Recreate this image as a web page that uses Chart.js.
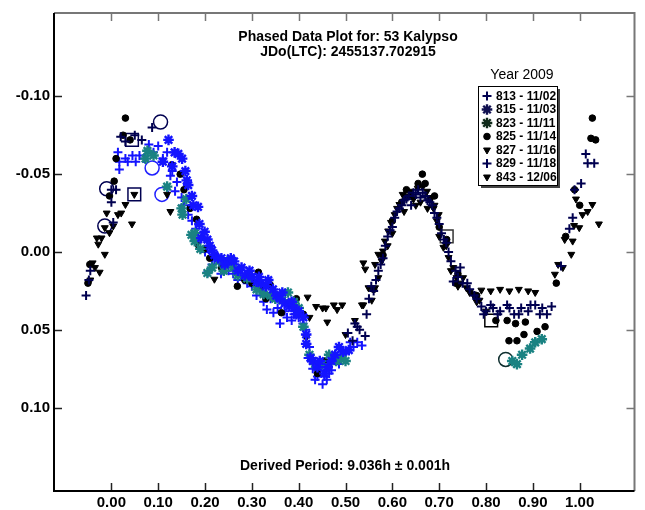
<!DOCTYPE html>
<html>
<head>
<meta charset="utf-8">
<script src="https://cdn.jsdelivr.net/npm/chart.js@4.4.1/dist/chart.umd.min.js"></script>
<style>
  html, body { margin: 0; padding: 0; background: #fff; }
  #wrap { width: 645px; height: 510px; }
</style>
</head>
<body>
<div id="wrap"><canvas id="myChart" width="645" height="510"></canvas></div>
<script>
// tick values
const xTicks = [0, 0.1, 0.2, 0.3, 0.4, 0.5, 0.6, 0.7, 0.8, 0.9, 1.0];
const yTicks = [-0.10, -0.05, 0.00, 0.05, 0.10];

// sessions: [phase, magnitude]
const s813 = [[-0.054,0.028],[-0.045,0.012],[-0.048,0.018],[0.0,-0.040],[0.01,-0.040],[0.0,-0.032],[0.004,-0.019],
  [0.087,-0.080],[0.065,-0.072],[0.05,-0.075],[0.02,-0.074],[0.03,-0.071],
  [0.505,0.052],[0.515,0.057],[0.525,0.048],[0.545,0.040],
  [0.542,0.054],[0.52,0.046],[0.53,0.050],[0.55,0.030],[0.56,0.025],[0.57,0.012],[0.58,0.004],[0.59,-0.010],[0.60,-0.016],
  [0.555,0.022],[0.565,0.018],[0.575,0.008],[0.585,-0.004],[0.595,-0.014],[0.605,-0.022],[0.615,-0.028],[0.625,-0.033],
  [0.635,-0.036],[0.645,-0.038],[0.655,-0.040],[0.665,-0.038],[0.675,-0.033],[0.685,-0.030],[0.695,-0.022],[0.70,-0.018],
  [0.61,-0.026],[0.62,-0.030],[0.63,-0.034],[0.64,-0.030],[0.65,-0.037],[0.66,-0.035],[0.67,-0.036],[0.68,-0.032],[0.69,-0.025],
  [0.705,-0.012],[0.715,-0.006],[0.71,-0.008],[0.72,0.000],[0.725,0.006],[0.735,0.012],[0.74,0.016],[0.75,0.020],
  [0.73,0.019],[0.745,0.010],[0.76,0.020],[0.765,0.024],[0.775,0.028],[0.78,0.030],[0.79,0.035],[0.795,0.040],[0.80,0.038],
  [0.81,0.034],[0.815,0.036],[0.825,0.040],[0.83,0.038],[0.845,0.034],[0.85,0.036],[0.86,0.040],[0.87,0.040],[0.875,0.036],
  [0.89,0.038],[0.895,0.034],[0.905,0.034],[0.915,0.040],[0.92,0.036],[0.93,0.040],[0.94,0.035],
  [0.96,0.009],[0.978,-0.015],[0.985,-0.022],[0.989,-0.040],[1.003,-0.044],[1.017,-0.057],[1.031,-0.057],[1.013,-0.063]];
const s815 = [[0.122,-0.072],[0.143,-0.063],[0.151,-0.060],[0.11,-0.058],[0.13,-0.055],[0.135,-0.064],[0.161,-0.046],
  [0.158,-0.052],[0.164,-0.043],[0.172,-0.036],[0.175,-0.030],[0.185,-0.029],[0.188,-0.018],[0.192,-0.009],[0.199,-0.013],
  [0.205,-0.008],[0.21,-0.004],[0.215,-0.001],[0.22,0.002],[0.228,0.004],[0.235,0.004],[0.242,0.008],[0.25,0.006],
  [0.255,0.004],[0.262,0.006],[0.27,0.012],[0.278,0.010],[0.285,0.015],[0.295,0.012],[0.30,0.016],[0.31,0.019],
  [0.315,0.016],[0.32,0.020],[0.33,0.022],[0.335,0.018],[0.345,0.024],[0.352,0.028],[0.36,0.030],[0.365,0.026],
  [0.37,0.033],[0.38,0.035],[0.385,0.032],[0.39,0.036],[0.395,0.040],[0.40,0.038],[0.41,0.042],[0.416,0.053],
  [0.416,0.059],[0.425,0.068],[0.43,0.070],[0.44,0.074],[0.445,0.070],[0.455,0.078],[0.462,0.074],[0.47,0.070],
  [0.478,0.066],[0.486,0.061],[0.495,0.064],[0.507,0.063]];
const s823 = [[0.077,-0.065],[0.073,-0.060],[0.09,-0.062],[0.119,-0.042],[0.15,-0.028],[0.152,-0.024],[0.16,-0.034],
  [0.171,-0.011],[0.178,-0.007],[0.178,-0.012],[0.19,-0.002],[0.205,0.0135],[0.215,0.010],[0.23,0.006],[0.24,0.012],
  [0.248,0.006],[0.26,0.010],[0.27,0.015],[0.29,0.017],[0.31,0.024],[0.325,0.027],[0.34,0.028],[0.35,0.030],
  [0.365,0.031],[0.377,0.026],[0.39,0.032],[0.40,0.036],[0.41,0.048],[0.423,0.066],[0.435,0.072],[0.45,0.072],
  [0.465,0.066],[0.48,0.070],[0.49,0.068],[0.50,0.070],
  [0.856,0.070],[0.866,0.072],[0.877,0.066],[0.894,0.062],[0.905,0.058],[0.919,0.056]];
const s825 = [[0.030,-0.086],[0.01,-0.060],[0.006,-0.0455],[-0.004,-0.036],[0.025,-0.075],[0.04,-0.072],
  [0.129,-0.056],[0.147,-0.050],[0.155,-0.040],[0.168,-0.028],[0.182,-0.021],[0.199,-0.002],[0.21,0.004],[0.235,0.010],
  [0.269,0.022],[0.285,0.018],[0.314,0.013],[0.300,0.020],[0.321,0.022],[0.33,0.030],[0.339,0.021],[0.349,0.027],
  [0.363,0.039],[0.38,0.034],[0.395,0.030],[0.41,0.040],[0.455,0.070],[0.475,0.069],[0.44,0.078],
  [0.56,0.024],[0.58,0.002],[0.60,-0.020],[0.62,-0.032],[0.63,-0.040],[0.64,-0.036],[0.655,-0.044],[0.664,-0.050],
  [0.67,-0.044],[0.68,-0.034],[0.69,-0.036],[0.70,-0.016],[0.716,-0.008],[0.735,0.020],[0.74,0.014],[0.78,0.028],
  [0.821,0.044],[0.845,0.044],[0.863,0.046],[0.884,0.045],
  [0.909,0.051],[0.926,0.048],[0.849,0.057],[0.866,0.057],[0.881,0.053],[0.95,0.020],[0.97,-0.010],[0.989,-0.040],
  [1.00,-0.030],[1.027,-0.086],[1.024,-0.073],[1.034,-0.072],[-0.046,0.008],[-0.050,0.020]];
const s827 = [[0.437,0.035],[0.451,0.036],[0.458,0.036],[0.461,0.045],[0.475,0.034],[0.482,0.037],[0.493,0.034],
  [0.538,0.007],[0.542,0.011],[0.563,0.008],[0.570,0.0015],[0.538,0.034],[0.419,0.029],[0.423,0.042],
  [0.79,0.0245],[0.81,0.025],[0.83,0.024],[0.85,0.025],[0.87,0.024],[0.89,0.025],[0.905,0.026],
  [0.964,0.010],[0.982,0.0015],[1.006,-0.024],[1.017,-0.026],[1.027,-0.0305],[1.041,-0.018]];
const s829 = [[0.014,-0.064],[0.017,-0.058],[0.017,-0.053],[0.03,-0.060],[0.035,-0.058],[0.045,-0.062],[0.052,-0.058],
  [0.06,-0.062],[0.07,-0.060],[0.08,-0.069],[0.09,-0.064],[0.10,-0.068],[0.11,-0.060],[0.119,-0.064],[0.126,-0.049],
  [0.13,-0.052],[0.136,-0.039],[0.14,-0.045],[0.15,-0.035],[0.155,-0.030],[0.164,-0.024],[0.172,-0.020],[0.18,-0.015],
  [0.19,-0.008],[0.20,0.000],[0.206,0.013],[0.215,0.008],[0.22,0.005],[0.234,0.014],[0.24,0.009],[0.25,0.012],
  [0.26,0.014],[0.27,0.018],[0.28,0.016],[0.29,0.020],[0.30,0.022],[0.31,0.028],[0.318,0.025],[0.325,0.032],
  [0.332,0.037],[0.34,0.030],[0.346,0.039],[0.355,0.036],[0.36,0.046],[0.37,0.038],[0.375,0.042],[0.385,0.044],
  [0.39,0.040],[0.40,0.042],[0.409,0.046],[0.415,0.050],[0.42,0.068],[0.423,0.061],[0.43,0.075],[0.435,0.082],
  [0.44,0.080],[0.445,0.076],[0.451,0.085],[0.455,0.080],[0.46,0.082],[0.465,0.078],[0.47,0.076],[0.48,0.068],
  [0.486,0.072],[0.49,0.066],[0.50,0.065],[0.51,0.058],[0.517,0.061],[0.525,0.058],[0.535,0.060]];
const s843 = [[0.049,-0.037],[0.030,-0.0305],[0.014,-0.024],[0.021,-0.025],[-0.010,-0.025],[0.044,-0.018],
  [-0.014,-0.0156],[0.004,-0.0167],[-0.004,-0.0124],[-0.031,-0.009],[-0.021,-0.009],[-0.028,-0.005],[-0.014,0.0015],
  [-0.040,0.007],[-0.035,0.010],[-0.025,0.013],[-0.045,0.018],[0.119,-0.037],[0.126,-0.026],[0.182,-0.005],
  [0.220,0.0175],[0.416,0.055],[0.50,0.053],[0.52,0.044],[0.535,0.034],[0.549,0.023],[0.556,0.031],[0.563,0.023],
  [0.57,0.0165],[0.577,0.0058],[0.58,-0.0006],[0.584,-0.007],[0.59,-0.004],[0.591,-0.0135],[0.597,-0.019],
  [0.60,-0.012],[0.605,-0.024],[0.61,-0.028],[0.615,-0.0305],[0.622,-0.037],[0.625,-0.026],[0.63,-0.036],
  [0.639,-0.039],[0.645,-0.034],[0.65,-0.030],[0.654,-0.041],[0.66,-0.032],[0.665,-0.042],[0.674,-0.039],
  [0.675,-0.028],[0.681,-0.035],[0.688,-0.028],[0.69,-0.030],[0.695,-0.020],[0.699,-0.024],[0.70,-0.010],
  [0.709,-0.003],[0.715,-0.004],[0.720,0.0036],[0.725,0.012],[0.730,0.010],[0.737,0.0165],[0.74,0.022],
  [0.745,0.020],[0.751,0.0165],[0.758,0.023],[0.765,0.026],[0.772,0.027],[0.78,0.032],[0.786,0.031],[0.80,0.038],
  [0.947,0.0143],[0.954,0.008],[0.968,-0.008],[0.985,-0.007],[0.999,-0.0156],[0.988,-0.017],[0.992,-0.034]];

// open marks at the first point of each session
const startCircles = [[0.105,-0.0835],[-0.010,-0.0406],[-0.014,-0.0167],[0.087,-0.054],[0.108,-0.037],[0.842,0.069]];
const startSquares = [[0.044,-0.072],[0.049,-0.037],[0.716,-0.010],[0.811,0.044]];

const sessions = [
  { label: '813 - 11/02', data: s813, color: '#000050', style: 'cross', rot: 0, r: 4.5, bw: 2 },
  { label: '815 - 11/03', data: s815, color: '#1414ff', style: 'star', rot: 0, r: 5.3, bw: 2.4 },
  { label: '823 - 11/11', data: s823, color: '#1a8282', style: 'star', rot: 0, r: 5.3, bw: 2.4 },
  { label: '825 - 11/14', data: s825, color: '#000000', style: 'circle', rot: 0, r: 3.3, bw: 1 },
  { label: '827 - 11/16', data: s827, color: '#000000', style: 'triangle', rot: 180, r: 4, bw: 1 },
  { label: '829 - 11/18', data: s829, color: '#1414ff', style: 'cross', rot: 0, r: 4.5, bw: 2 },
  { label: '843 - 12/06', data: s843, color: '#000000', style: 'triangle', rot: 180, r: 4, bw: 1 }
];
const legendColors = ['#000050', '#101050', '#102a1a', '#000000', '#000000', '#000050', '#000000'];

const toXY = arr => arr.map(p => ({ x: p[0], y: p[1] }));

const datasets = sessions.map(s => ({
  label: s.label,
  data: toXY(s.data),
  pointStyle: s.style,
  rotation: s.rot,
  pointRadius: s.r,
  pointBorderWidth: s.bw,
  borderColor: s.color,
  backgroundColor: s.color,
  showLine: false
}));
datasets.push({
  label: 'start',
  data: toXY(startCircles),
  pointStyle: 'circle',
  pointRadius: 7,
  pointBorderWidth: 1.5,
  borderColor: ['#000050', '#000050', '#000050', '#2020ff', '#2020ff', '#103030'],
  backgroundColor: 'rgba(0,0,0,0)',
  showLine: false
});
datasets.push({
  label: 'start2',
  data: toXY(startSquares),
  pointStyle: 'rect',
  pointRadius: 9,
  pointBorderWidth: 1.5,
  borderColor: ['#000050', '#000050', '#333333', '#000000'],
  backgroundColor: 'rgba(0,0,0,0)',
  showLine: false
});

const FONT = '"Liberation Sans", Arial, sans-serif';

const framePlugin = {
  id: 'frame',
  afterDraw(chart) {
    const { ctx, chartArea: a, scales } = chart;
    const xs = scales.x, ys = scales.y;
    ctx.save();
    // inner ticks
    ctx.lineWidth = 1.5;
    xTicks.forEach(v => {
      const px = Math.round(xs.getPixelForValue(v)) + 0.5;
      ctx.strokeStyle = '#222';
      ctx.beginPath(); ctx.moveTo(px, a.bottom); ctx.lineTo(px, a.bottom - 8); ctx.stroke();
      ctx.strokeStyle = '#777';
      ctx.beginPath(); ctx.moveTo(px, a.top); ctx.lineTo(px, a.top + 8); ctx.stroke();
    });
    yTicks.forEach(v => {
      const py = Math.round(ys.getPixelForValue(v)) + 0.5;
      ctx.strokeStyle = '#222';
      ctx.beginPath(); ctx.moveTo(a.left, py); ctx.lineTo(a.left + 8, py); ctx.stroke();
      ctx.strokeStyle = '#777';
      ctx.beginPath(); ctx.moveTo(a.right, py); ctx.lineTo(a.right - 8, py); ctx.stroke();
    });
    // frame
    ctx.lineWidth = 2;
    ctx.strokeStyle = '#777';
    ctx.beginPath(); ctx.moveTo(a.left, a.top); ctx.lineTo(a.right, a.top); ctx.lineTo(a.right, a.bottom); ctx.stroke();
    ctx.strokeStyle = '#000';
    ctx.beginPath(); ctx.moveTo(a.left, a.top); ctx.lineTo(a.left, a.bottom); ctx.lineTo(a.right, a.bottom); ctx.stroke();

    // titles
    ctx.fillStyle = '#000';
    ctx.textAlign = 'center';
    ctx.textBaseline = 'middle';
    ctx.font = 'bold 14px ' + FONT;
    ctx.fillText('Phased Data Plot for: 53 Kalypso', 348, 37);
    ctx.fillText('JDo(LTC): 2455137.702915', 348, 52);
    ctx.fillText('Derived Period: 9.036h \u00b1 0.001h', 345, 466);

    // legend
    ctx.font = '14px ' + FONT;
    ctx.fillText('Year 2009', 522, 75);
    const bx = 478, by = 86, bw = 79, bh = 99;
    ctx.fillStyle = '#444';
    ctx.fillRect(bx + 3, by + 3, bw, bh);
    ctx.fillStyle = '#fff';
    ctx.fillRect(bx, by, bw, bh);
    ctx.strokeStyle = '#000';
    ctx.lineWidth = 1;
    ctx.strokeRect(bx + 0.5, by + 0.5, bw, bh);
    ctx.font = 'bold 12px ' + FONT;
    ctx.textAlign = 'left';
    sessions.forEach((s, i) => {
      const ly = 96 + i * 13.5;
      ctx.strokeStyle = legendColors[i];
      ctx.fillStyle = legendColors[i];
      ctx.lineWidth = s.bw;
      Chart.helpers.drawPoint(ctx, { pointStyle: s.style, rotation: s.rot, radius: s.r, borderWidth: s.bw }, 487, ly);
      ctx.fillStyle = '#000';
      ctx.fillText(s.label, 496, ly + 0.5);
    });
    ctx.restore();
  }
};

const ctx = document.getElementById('myChart').getContext('2d');
const myChart = new Chart(ctx, {
  type: 'scatter',
  data: { datasets: datasets },
  options: {
    responsive: false,
    animation: false,
    layout: { padding: { top: 11, right: 1, left: 0, bottom: 0 } },
    plugins: { legend: { display: false }, title: { display: false }, tooltip: { enabled: false } },
    scales: {
      x: {
        type: 'linear',
        min: -0.1225,
        max: 1.117,
        afterFit(scale) { scale.height = 19; },
        afterBuildTicks(scale) { scale.ticks = xTicks.map(v => ({ value: v })); },
        grid: { display: false, drawTicks: false },
        border: { display: false },
        ticks: {
          padding: 3,
          color: '#000',
          font: { family: FONT, size: 15, weight: 'bold' },
          callback: v => v.toFixed(2)
        }
      },
      y: {
        type: 'linear',
        reverse: true,
        min: -0.1535,
        max: 0.1535,
        afterFit(scale) { scale.width = 54; },
        afterBuildTicks(scale) { scale.ticks = yTicks.map(v => ({ value: v })); },
        grid: { display: false, drawTicks: false },
        border: { display: false },
        ticks: {
          padding: 4,
          color: '#000',
          font: { family: FONT, size: 15, weight: 'bold' },
          callback: v => (Math.abs(v) < 1e-9 ? 0 : v).toFixed(2)
        }
      }
    }
  },
  plugins: [framePlugin]
});
</script>
</body>
</html>
